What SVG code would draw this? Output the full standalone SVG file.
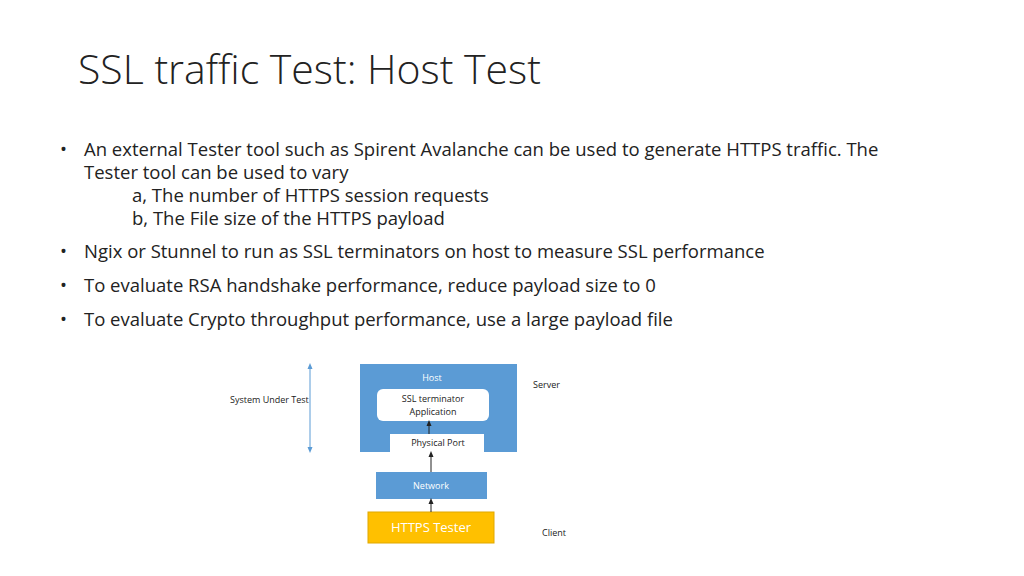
<svg xmlns="http://www.w3.org/2000/svg" width="1024" height="576" viewBox="0 0 1024 576">
<defs>
<marker id="ah" markerWidth="6" markerHeight="6" refX="3" refY="3" orient="auto"><path d="M0,0.5 L6,3 L0,5.5z" fill="#222"/></marker>
<marker id="bh" markerWidth="6" markerHeight="6" refX="3" refY="3" orient="auto-start-reverse"><path d="M0,0.5 L6,3 L0,5.5z" fill="#5b9bd5"/></marker>
</defs>
<style>
.t{font-family:"Open Sans","Liberation Sans",sans-serif;fill:#222}
.b{font-size:18.5px}
.s{font-size:9px}
.w{fill:#fff}
</style>
<rect width="1024" height="576" fill="#fff"/>
<text class="t" x="78" y="84" font-size="41" font-weight="300" fill="#333">SSL traffic Test: Host Test</text>
<g class="t b">
<text x="60" y="156">•</text>
<text x="84" y="156">An external Tester tool such as Spirent Avalanche can be used to generate HTTPS traffic. The</text>
<text x="84" y="179">Tester tool can be used to vary</text>
<text x="132" y="202">a, The number of HTTPS session requests</text>
<text x="132" y="225">b, The File size of the HTTPS payload</text>
<text x="60" y="258">•</text>
<text x="84" y="258">Ngix or Stunnel to run as SSL terminators on host to measure SSL performance</text>
<text x="60" y="292">•</text>
<text x="84" y="292">To evaluate RSA handshake performance, reduce payload size to 0</text>
<text x="60" y="326">•</text>
<text x="84" y="326">To evaluate Crypto throughput performance, use a large payload file</text>
</g>
<g id="host"><rect x="360" y="364" width="157" height="88" fill="#5b9bd5"/><text class="t s w" x="432" y="381" text-anchor="middle">Host</text></g>
<g id="ssl"><rect x="377" y="389" width="112" height="32" rx="6" fill="#fff"/><text class="t s" x="433" y="402" text-anchor="middle">SSL terminator</text><text class="t s" x="433" y="415" text-anchor="middle">Application</text></g>
<g id="port"><rect x="390" y="434" width="94" height="18" fill="#fff"/><text class="t s" x="438" y="446" text-anchor="middle">Physical Port</text></g>
<g id="network"><rect x="376" y="472" width="111" height="27" fill="#5b9bd5"/><text class="t s w" x="431" y="489" text-anchor="middle">Network</text></g>
<g id="tester"><rect x="368" y="512" width="126" height="31" fill="#ffc000" stroke="#e0a800"/><text class="t w" x="431" y="532" font-size="13" text-anchor="middle">HTTPS Tester</text></g>
<g id="labels" class="t s">
<text x="230" y="403">System Under Test</text>
<text x="533" y="388">Server</text>
<text x="542" y="536">Client</text>
</g>
<g id="connectors" stroke-width="1">
<line x1="310" y1="366" x2="310" y2="450" stroke="#5b9bd5" marker-start="url(#bh)" marker-end="url(#bh)"/>
<line x1="431" y1="512" x2="431" y2="501" stroke="#222" marker-end="url(#ah)"/>
<line x1="431" y1="472" x2="431" y2="454" stroke="#222" marker-end="url(#ah)"/>
<line x1="429" y1="434" x2="429" y2="423" stroke="#222" marker-end="url(#ah)"/>
</g>
</svg>
